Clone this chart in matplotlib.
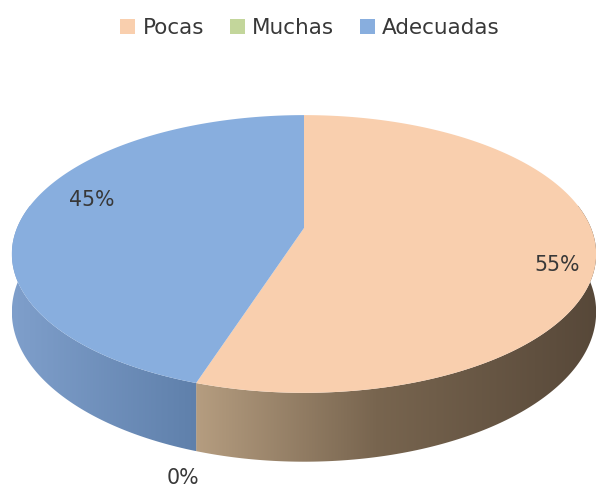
import numpy as np
import matplotlib
matplotlib.use('Agg')
import matplotlib.pyplot as plt
from matplotlib.colors import LinearSegmentedColormap
from matplotlib.patches import Patch, Polygon

categories = ['Pocas', 'Muchas', 'Adecuadas']
values = [55, 0, 45]
labels = ['55%', '0%', '45%']
colors = ['#F9CFAE', '#C3D69B', '#88AEDE']
side_colors = [
    [(0, '#B59D80'), (0.45, '#78654F'), (1, '#574839')],
    [(0, '#A0AB7C'), (1, '#707850')],
    [(0, '#7F9FCB'), (1, '#5F80AB')],
]
label_xy = [(557, 265), (183, 478), (92, 200)]

plt.rcParams['font.family'] = ['DejaVu Sans']

# pie geometry in pixels, K is the perspective of the tilted disc
CX, CY = 304, 228
A, B, K = 287, 134, 0.187
DEPTH = 56


def project(theta, drop=0):
    x, y = np.cos(theta), np.sin(theta)
    d = 1 + K * y
    return CX + A * x / d, CY - B * y / d + drop / d


fig = plt.figure(figsize=(5.96, 4.87), dpi=100)
ax = fig.add_axes([0, 0, 1, 1])

fractions = np.array(values) / sum(values)

# side walls first, only the part of the rim that faces us
t0, t1 = np.radians(170), np.radians(370)
start = np.pi / 2
for i, f in enumerate(fractions):
    end = start - f * 2 * np.pi
    if f > 0:
        s0, s1 = end, start
        if s1 < t0:
            s0 += 2 * np.pi
            s1 += 2 * np.pi
        s0 = max(s0, t0)
        s1 = min(s1, t1)
        th = np.linspace(s0, s1, 200)
        xt, yt = project(th)
        xb, yb = project(th, DEPTH)
        pts = np.r_[np.c_[xt, yt], np.c_[xb, yb][::-1]]
        poly = Polygon(pts, closed=True, transform=ax.transData, fc='none', ec='none')
        ax.add_patch(poly)
        cmap = LinearSegmentedColormap.from_list('side', side_colors[i])
        im = ax.imshow(np.linspace(0, 1, 256).reshape(1, -1), cmap=cmap, aspect='auto',
                       extent=(pts[:, 0].min(), pts[:, 0].max(), pts[:, 1].max(), pts[:, 1].min()))
        im.set_clip_path(poly)
    start = end

# top face
start = np.pi / 2
for i, f in enumerate(fractions):
    end = start - f * 2 * np.pi
    if f > 0:
        th = np.linspace(start, end, 300)
        xt, yt = project(th)
        ax.fill(np.r_[CX, xt], np.r_[CY, yt], color=colors[i], lw=0)
    start = end

for txt, (x, y) in zip(labels, label_xy):
    ax.text(x, y, txt, ha='center', va='center', fontsize=14.8, color='#383838')

handles = [Patch(fc=c, ec='none', label=n) for c, n in zip(colors, categories)]
ax.legend(handles=handles, loc='center', bbox_to_anchor=(310 / 596, 1 - 28 / 487), ncol=3,
          frameon=False, fontsize=15.5, handlelength=0.7, handleheight=0.7,
          handletextpad=0.33, columnspacing=1.2, labelcolor='#383838')

ax.set_xlim(0, 596)
ax.set_ylim(487, 0)
ax.axis('off')
fig.savefig('out.png', dpi=100)
